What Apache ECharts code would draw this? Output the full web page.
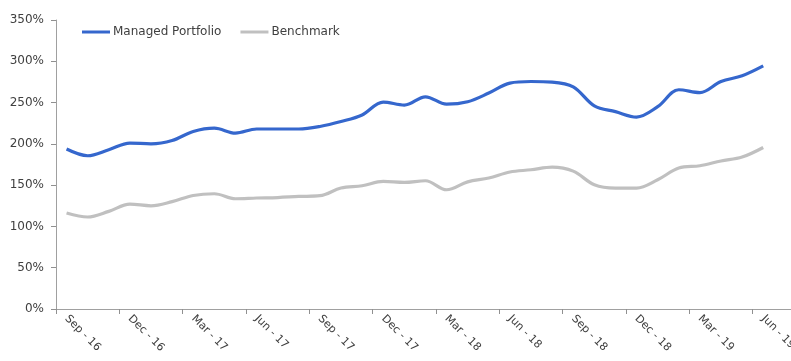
<!DOCTYPE html>
<html><head><meta charset="utf-8">
<script src="https://cdn.jsdelivr.net/npm/echarts@6/dist/echarts.min.js"></script>
<style>html,body{margin:0;padding:0;background:#fff;overflow:hidden}#c{width:816px;height:361px}</style>
</head><body><div id="c"></div>
<script>
const categories = ['Sep - 16','Oct - 16','Nov - 16','Dec - 16','Jan - 17','Feb - 17','Mar - 17','Apr - 17','May - 17','Jun - 17','Jul - 17','Aug - 17',
  'Sep - 17','Oct - 17','Nov - 17','Dec - 17','Jan - 18','Feb - 18','Mar - 18','Apr - 18','May - 18','Jun - 18','Jul - 18','Aug - 18',
  'Sep - 18','Oct - 18','Nov - 18','Dec - 18','Jan - 19','Feb - 19','Mar - 19','Apr - 19','May - 19','Jun - 19','Jul - 19','Aug - 19'];
const managed = [193.7,185.6,192.9,201,200,204,215,219,213,218,218,218,
  221,227,235,250.6,247,257,248,251,261.5,273.6,275.5,274.8,
  269,246,239,232.4,245,265.5,262,275.5,282.5,294.5,null,null];
const benchmark = [116.2,111.4,118.2,127,125,130,137.5,139.6,133.5,134.4,135,136.3,
  137.2,146.5,149.3,154.5,153.3,155.3,144.4,154,158.6,165.9,168.6,171.9,
  167,150.5,146.5,146.5,156.5,170.7,173.5,179.2,184,195.6,null,null];
const yTicks = {min:0, max:350, interval:50};

const FONT = 'DejaVu Sans';
const chart = echarts.init(document.getElementById('c'), null, {renderer:'canvas'});
chart.setOption({
  animation:false,
  textStyle:{fontFamily:FONT},
  grid:{left:56, right:0, top:20, bottom:52, containLabel:false},
  legend:{left:82, top:26, padding:0, icon:'rect', itemWidth:28, itemHeight:3, itemGap:19,
    textStyle:{fontFamily:FONT, fontSize:12, color:'#404040', padding:[0,0,0,-2]},
    data:['Managed Portfolio','Benchmark']},
  xAxis:{type:'category', data:categories, boundaryGap:true,
    axisLine:{show:true, lineStyle:{color:'#a0a0a0', width:1}},
    axisTick:{show:true, interval:2, length:5, alignWithLabel:false, lineStyle:{color:'#909090', width:1}},
    axisLabel:{show:true, interval:2, rotate:-45, margin:8, fontFamily:FONT, fontSize:11, color:'#404040'},
    splitLine:{show:false}},
  yAxis:{type:'value', min:yTicks.min, max:yTicks.max, interval:yTicks.interval,
    axisLine:{show:true, lineStyle:{color:'#a0a0a0', width:1}},
    axisTick:{show:true, length:5, lineStyle:{color:'#909090', width:1}},
    axisLabel:{formatter:'{value}%', margin:12, fontFamily:FONT, fontSize:12, color:'#404040'},
    splitLine:{show:false}},
  series:[
    {name:'Managed Portfolio', type:'line', data:managed, smooth:0.35, symbol:'none', showSymbol:false,
      itemStyle:{color:'#3567cd'}, lineStyle:{color:'#3567cd', width:3.2}},
    {name:'Benchmark', type:'line', data:benchmark, smooth:0.35, symbol:'none', showSymbol:false,
      itemStyle:{color:'#c0c0c0'}, lineStyle:{color:'#c0c0c0', width:3.2}}
  ]
});
</script></body></html>
